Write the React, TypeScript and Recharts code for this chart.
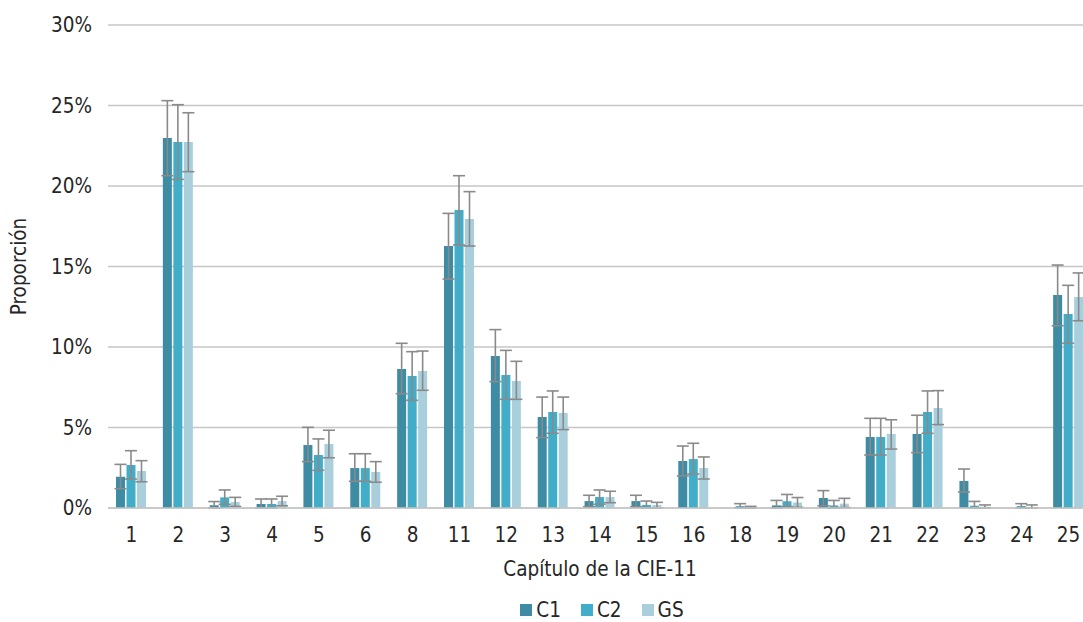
import React from 'react';
import { BarChart, Bar, XAxis, YAxis, CartesianGrid, ErrorBar, Legend } from 'recharts';

const FONT = "'Liberation Sans Narrow', 'DejaVu Sans Condensed', 'Liberation Sans', sans-serif";
const FS = 20.5;
const TEXT = '#262626';
const GRID = '#c6c6c6';
const ERR = '#8a8a8a';

const categories = ['1', '2', '3', '4', '5', '6', '8', '11', '12', '13', '14', '15', '16', '18', '19', '20', '21', '22', '23', '24', '25'];

const c1 = [1.94, 22.98, 0.17, 0.25, 3.91, 2.48, 8.63, 16.27, 9.44, 5.65, 0.43, 0.43, 2.92, 0.0, 0.16, 0.62, 4.41, 4.6, 1.68, 0.0, 13.23];
const c1Low = [1.2, 20.64, 0.0, 0.0, 2.88, 1.66, 7.1, 14.22, 7.85, 4.37, 0.08, 0.08, 1.99, 0.0, 0.0, 0.14, 3.29, 3.44, 0.99, 0.0, 11.32];
const c1High = [2.71, 25.3, 0.4, 0.56, 5.01, 3.37, 10.23, 18.3, 11.08, 6.89, 0.79, 0.79, 3.85, 0.0, 0.47, 1.08, 5.57, 5.76, 2.42, 0.0, 15.09];

const c2 = [2.67, 22.73, 0.66, 0.25, 3.29, 2.48, 8.2, 18.51, 8.26, 5.96, 0.68, 0.19, 3.04, 0.12, 0.42, 0.16, 4.41, 5.96, 0.14, 0.12, 12.05];
const c2Low = [1.8, 20.41, 0.23, 0.0, 2.34, 1.66, 6.69, 16.34, 6.75, 4.64, 0.23, 0.0, 2.11, 0.0, 0.09, 0.0, 3.29, 4.64, 0.0, 0.0, 10.23];
const c2High = [3.56, 25.05, 1.12, 0.56, 4.29, 3.37, 9.71, 20.64, 9.79, 7.27, 1.12, 0.43, 4.02, 0.27, 0.84, 0.47, 5.57, 7.27, 0.41, 0.27, 13.83];

const gs = [2.3, 22.73, 0.37, 0.43, 3.98, 2.24, 8.51, 17.95, 7.89, 5.9, 0.68, 0.19, 2.48, 0.02, 0.34, 0.27, 4.6, 6.21, 0.08, 0.05, 13.1];
const gsLow = [1.63, 20.89, 0.1, 0.14, 3.12, 1.6, 7.31, 16.27, 6.75, 4.87, 0.33, 0.0, 1.8, 0.0, 0.04, 0.03, 3.66, 5.18, 0.0, 0.0, 11.63];
const gsHigh = [2.94, 24.55, 0.66, 0.73, 4.83, 2.88, 9.75, 19.65, 9.11, 6.89, 1.04, 0.35, 3.17, 0.1, 0.65, 0.6, 5.48, 7.29, 0.19, 0.19, 14.6];

const yTicks = [0, 5, 10, 15, 20, 25, 30];

const series = [
  { key: 'c1', name: 'C1', color: '#3d8ca4' },
  { key: 'c2', name: 'C2', color: '#41adc8' },
  { key: 'gs', name: 'GS', color: '#a9cfdc' },
];

const data = categories.map((cat, i) => ({
  cat,
  c1: c1[i],
  c1Err: [c1[i] - c1Low[i], c1High[i] - c1[i]],
  c2: c2[i],
  c2Err: [c2[i] - c2Low[i], c2High[i] - c2[i]],
  gs: gs[i],
  gsErr: [gs[i] - gsLow[i], gsHigh[i] - gs[i]],
}));

const renderLegend = () => (
  <div
    style={{
      display: 'flex',
      justifyContent: 'center',
      alignItems: 'center',
      height: 25,
      marginLeft: 112,
      fontFamily: FONT,
      fontSize: FS,
      color: TEXT,
    }}
  >
    {series.map((s) => (
      <div key={s.key} style={{ display: 'flex', alignItems: 'center', margin: '0 10px' }}>
        <span style={{ display: 'inline-block', width: 12, height: 12, background: s.color, marginRight: 4 }} />
        <span>{s.name}</span>
      </div>
    ))}
  </div>
);

export default function App() {
  return (
    <div style={{ position: 'absolute', left: 0, top: 0, width: 1083, height: 622, overflow: 'hidden', background: '#fff' }}>
      <BarChart
        width={1092}
        height={622}
        data={data}
        margin={{ top: 25, right: 0, bottom: 0, left: 0 }}
        barSize={9}
        barGap={1.5}
      >
        <CartesianGrid vertical={false} stroke={GRID} strokeWidth={1.5} />
        <XAxis
          dataKey="cat"
          interval={0}
          tickLine={false}
          axisLine={{ stroke: GRID, strokeWidth: 1.5 }}
          tickSize={0}
          tickMargin={19}
          height={89}
          tick={{ fill: TEXT, fontSize: FS, fontFamily: FONT }}
          label={{ value: 'Capítulo de la CIE-11', position: 'insideBottom', offset: 21, fill: TEXT, fontSize: FS, fontFamily: FONT }}
        />
        <YAxis
          domain={[0, 30]}
          ticks={yTicks}
          tickFormatter={(v) => `${v}%`}
          axisLine={false}
          tickLine={false}
          tickSize={0}
          tickMargin={16}
          width={108}
          tick={{ fill: TEXT, fontSize: FS, fontFamily: FONT }}
          label={{ value: 'Proporción', angle: -90, position: 'insideLeft', offset: 19, fill: TEXT, fontSize: FS, fontFamily: FONT, style: { textAnchor: 'middle' } }}
        />
        <Legend verticalAlign="bottom" content={renderLegend} wrapperStyle={{ bottom: 0 }} />
        {series.map((s) => (
          <Bar key={s.key} dataKey={s.key} name={s.name} fill={s.color} isAnimationActive={false}>
            <ErrorBar dataKey={`${s.key}Err`} width={6} stroke={ERR} strokeWidth={1.6} isAnimationActive={false} />
          </Bar>
        ))}
      </BarChart>
    </div>
  );
}
